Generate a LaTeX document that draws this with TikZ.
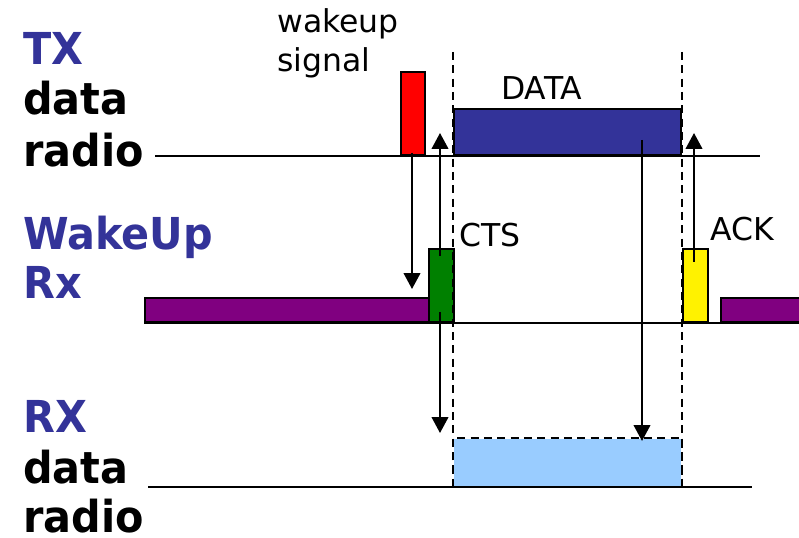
\documentclass[tikz,border=0pt]{standalone}
\usepackage{fontspec}
\setmainfont{DejaVu Sans}
\newfontfamily\lblfont[FakeStretch=0.94]{DejaVu Sans}
\usetikzlibrary{arrows.meta}
\definecolor{txblue}{HTML}{333399}
\definecolor{rxblue}{HTML}{99CCFF}
\definecolor{wpurple}{HTML}{800080}
\definecolor{wgreen}{HTML}{008000}
\tikzset{
  lbl/.style={anchor=base west, inner sep=0pt, font=\lblfont\bfseries\fontsize{33}{37}\selectfont},
  small/.style={anchor=base west, inner sep=0pt, font=\fontsize{23.6}{29}\selectfont},
  blk/.style={draw=black, line width=1.5pt, inner sep=0pt, anchor=south west},
  axis/.style={line width=1.5pt},
  sig/.style={line width=1.5pt, -{Triangle[width=12.5pt,length=12pt]}},
  guide/.style={line width=1.5pt, dash pattern=on 6pt off 4pt}
}
\begin{document}
\begin{tikzpicture}[x=0.75pt,y=-0.75pt]
\useasboundingbox (0,0) rectangle (799,538);
% labels
\node[lbl, txblue] (tx1) at (23,65) {TX};
\node[lbl] (tx2) at (23,115) {data};
\node[lbl] (tx3) at (23,167) {radio};
\node[lbl, txblue] (wu1) at (23,249) {WakeUp};
\node[lbl, txblue] (wu2) at (23,298) {Rx};
\node[lbl, txblue] (rx1) at (23,432) {RX};
\node[lbl] (rx2) at (23,483) {data};
\node[lbl] (rx3) at (23,532) {radio};
\node[small] (ws1) at (277,33) {wakeup};
\node[small] (ws2) at (277,72) {signal};
\node[small] (datal) at (501,100) {DATA};
\node[small] (ctsl) at (459,247) {CTS};
\node[small] (ackl) at (710,241) {ACK};
% base lines
\coordinate (txl) at (155,156); \coordinate (txr) at (760,156);
\draw[axis] (txl) -- (txr);
\coordinate (wul) at (144,323); \coordinate (wur) at (799,323);
\draw[axis] (wul) -- (wur);
\coordinate (rxl) at (148,487); \coordinate (rxr) at (752,487);
\draw[axis] (rxl) -- (rxr);
% blocks
\node[blk, fill=red, minimum width=18pt, minimum height=62.25pt] (wake) at (400,156) {};
\node[blk, fill=txblue, minimum width=170.25pt, minimum height=34.5pt] (data) at (453,156) {};
\node[blk, fill=wpurple, minimum width=213pt, minimum height=18pt] (wuoff1) at (144,323) {};
\node[blk, fill=wpurple, minimum width=70pt, minimum height=18pt] (wuoff2) at (720,323) {};
\node[blk, fill=wgreen, minimum width=18.75pt, minimum height=54.75pt] (cts) at (428,323) {};
\node[blk, fill=yellow, minimum width=18.75pt, minimum height=54.75pt] (ack) at (682,323) {};
\node[blk, draw=none, fill=rxblue, minimum width=170.25pt, minimum height=35.25pt] (rxd) at (453,487) {};
\draw[guide] (rxd.south west) -- (rxd.north west) -- (rxd.north east) -- (rxd.south east);
% dashed guides
\coordinate (g1t) at (453,52); \coordinate (g1b) at (453,490);
\coordinate (g2t) at (682,52); \coordinate (g2b) at (682,490);
\draw[guide] (g1t) -- (g1b);
\draw[guide] (g2t) -- (g2b);
% arrows
\coordinate (wuA) at (412,153); \coordinate (wuTip) at (412,289);
\draw[sig] (wuA) -- (wuTip);
\coordinate (ctsA) at (440,256); \coordinate (ctsUp) at (440,133);
\coordinate (ctsB) at (440,312); \coordinate (ctsDn) at (440,433);
\draw[sig] (ctsA) -- (ctsUp);
\draw[sig] (ctsB) -- (ctsDn);
\coordinate (dA) at (642,140); \coordinate (dTip) at (642,441);
\draw[sig] (dA) -- (dTip);
\coordinate (aA) at (694,262); \coordinate (aTip) at (694,133);
\draw[sig] (aA) -- (aTip);
\end{tikzpicture}
\end{document}
